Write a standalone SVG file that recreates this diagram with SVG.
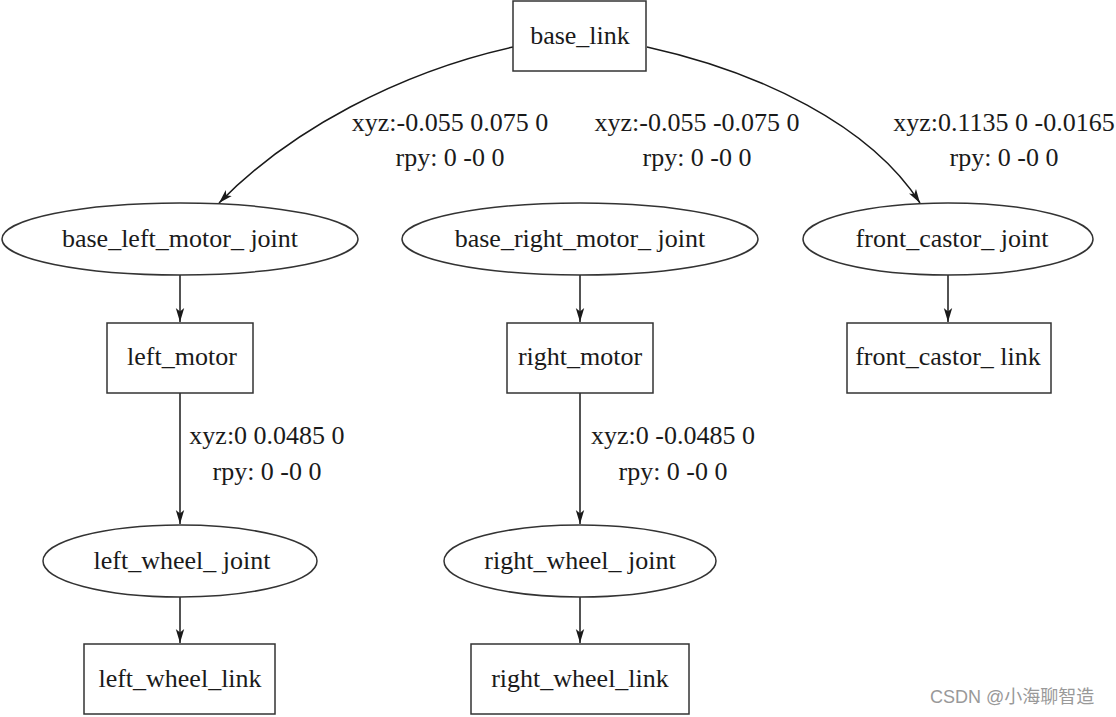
<svg xmlns="http://www.w3.org/2000/svg" width="1116" height="717" viewBox="0 0 1116 717">
<defs>
<style>
.n{fill:#fff;stroke:#333;stroke-width:1.5}
.t{font-family:"Liberation Serif","Times New Roman",serif;font-size:26px;fill:#1a1a1a;text-anchor:middle}
.e{fill:none;stroke:#1a1a1a;stroke-width:1.5}
.wm{font-family:"Liberation Sans","Noto Sans CJK SC",sans-serif;font-size:18px;fill:#999}
</style>
<marker id="ah" viewBox="0 0 14 10" refX="14" refY="5" markerWidth="14" markerHeight="10" markerUnits="userSpaceOnUse" orient="auto"><path d="M0,0.8 L14,5 L0,9.2 L3.5,5 Z" fill="#1a1a1a"/></marker>
</defs>
<rect width="1116" height="717" fill="#fff"/>
<g id="connectors">
<path class="e" d="M513,47 C400,72 290,130 219,203" marker-end="url(#ah)"/>
<path class="e" d="M647,47 C760,72 870,125 920,203" marker-end="url(#ah)"/>
<line class="e" x1="180" y1="275" x2="180" y2="322" marker-end="url(#ah)"/>
<line class="e" x1="580" y1="275" x2="580" y2="322" marker-end="url(#ah)"/>
<line class="e" x1="948" y1="275" x2="948" y2="322" marker-end="url(#ah)"/>
<line class="e" x1="180" y1="393" x2="180" y2="524" marker-end="url(#ah)"/>
<line class="e" x1="580" y1="393" x2="580" y2="524" marker-end="url(#ah)"/>
<line class="e" x1="180" y1="597" x2="180" y2="643" marker-end="url(#ah)"/>
<line class="e" x1="580" y1="597" x2="580" y2="643" marker-end="url(#ah)"/>
<text class="t" x="450" y="131">xyz:-0.055 0.075 0</text>
<text class="t" x="450" y="166">rpy: 0 -0 0</text>
<text class="t" x="697" y="131">xyz:-0.055 -0.075 0</text>
<text class="t" x="697" y="166">rpy: 0 -0 0</text>
<text class="t" x="1004" y="131">xyz:0.1135 0 -0.0165</text>
<text class="t" x="1004" y="166">rpy: 0 -0 0</text>
<text class="t" x="267" y="444">xyz:0 0.0485 0</text>
<text class="t" x="267" y="480">rpy: 0 -0 0</text>
<text class="t" x="673" y="444">xyz:0 -0.0485 0</text>
<text class="t" x="673" y="480">rpy: 0 -0 0</text>
</g>
<g id="base_link"><rect class="n" x="513" y="1" width="133" height="70"/><text class="t" x="580" y="44">base_link</text></g>
<g id="base_left_motor_joint"><ellipse class="n" cx="180" cy="239" rx="178" ry="36"/><text class="t" x="180" y="247">base_left_motor_ joint</text></g>
<g id="base_right_motor_joint"><ellipse class="n" cx="580" cy="239" rx="178" ry="36"/><text class="t" x="580" y="247">base_right_motor_ joint</text></g>
<g id="front_castor_joint"><ellipse class="n" cx="948" cy="239" rx="145" ry="36"/><text class="t" x="952" y="247">front_castor_ joint</text></g>
<g id="left_motor"><rect class="n" x="107" y="323" width="146" height="70"/><text class="t" x="182" y="365">left_motor</text></g>
<g id="right_motor"><rect class="n" x="507" y="323" width="146" height="70"/><text class="t" x="580" y="365">right_motor</text></g>
<g id="front_castor_link"><rect class="n" x="847" y="323" width="204" height="70"/><text class="t" x="948" y="365">front_castor_ link</text></g>
<g id="left_wheel_joint"><ellipse class="n" cx="180" cy="561" rx="137" ry="36"/><text class="t" x="182" y="569">left_wheel_ joint</text></g>
<g id="right_wheel_joint"><ellipse class="n" cx="580" cy="561" rx="136" ry="36"/><text class="t" x="580" y="569">right_wheel_ joint</text></g>
<g id="left_wheel_link"><rect class="n" x="84" y="644" width="191" height="70"/><text class="t" x="180" y="687">left_wheel_link</text></g>
<g id="right_wheel_link"><rect class="n" x="471" y="644" width="218" height="70"/><text class="t" x="580" y="687">right_wheel_link</text></g>
<text class="wm" x="930" y="703">CSDN @小海聊智造</text>
</svg>
